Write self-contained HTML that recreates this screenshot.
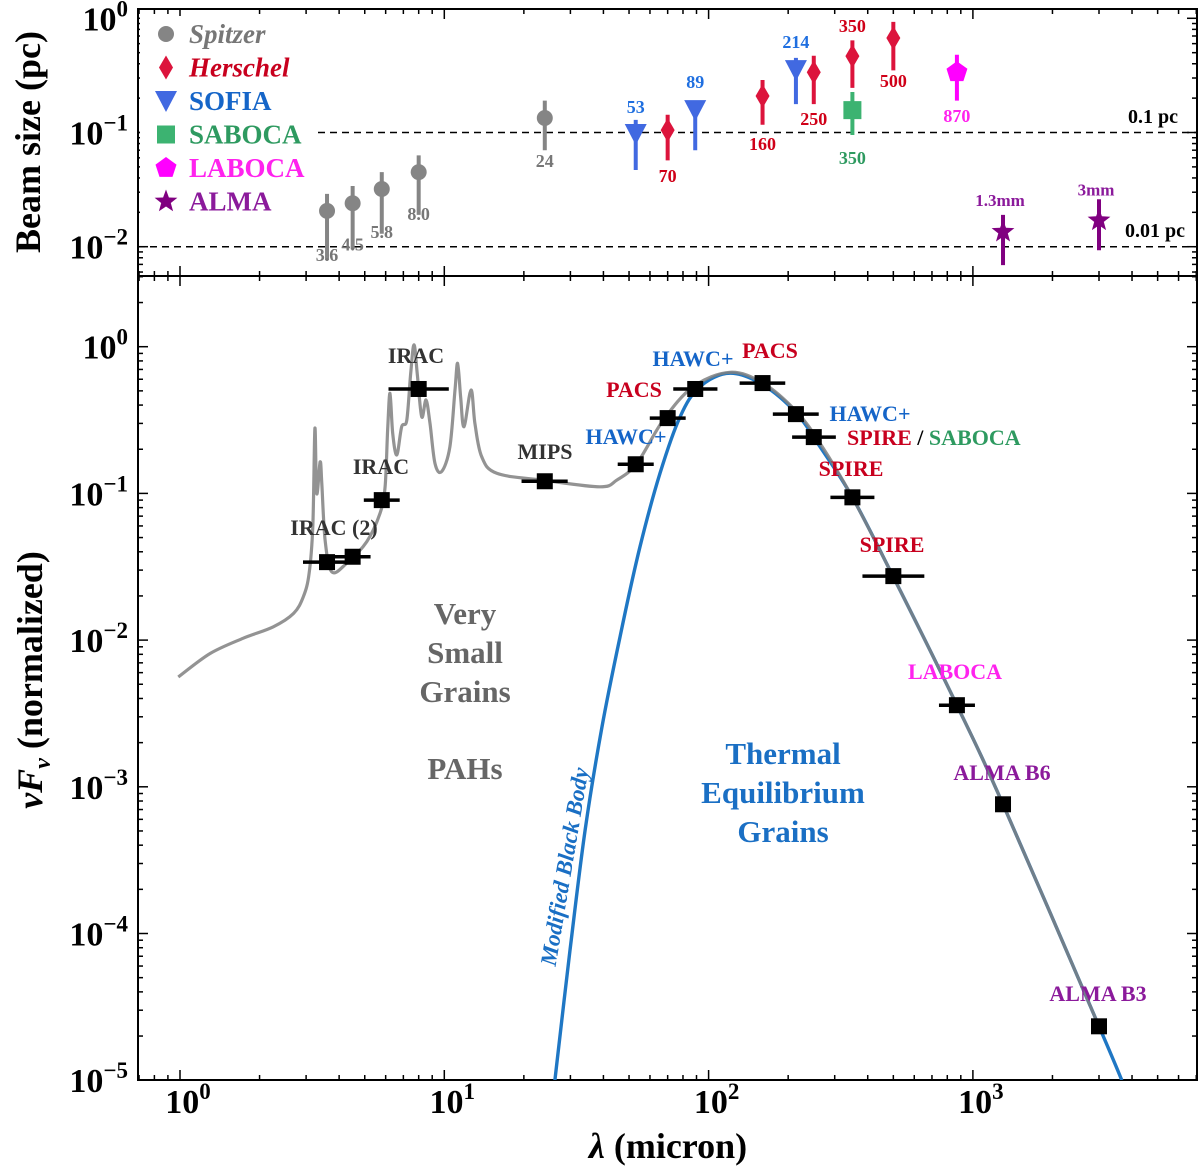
<!DOCTYPE html>
<html><head><meta charset="utf-8">
<style>
html,body{margin:0;padding:0;background:#fff;}
svg{display:block;}
text{font-family:"Liberation Serif","DejaVu Serif",serif;}
</style></head>
<body>
<svg id="chart" width="1200" height="1170" viewBox="0 0 1200 1170" xmlns="http://www.w3.org/2000/svg"></svg>
<script>
// ---------- top panel data (beam size, pc) ----------
const spitzerLam = [3.6, 4.5, 5.8, 8.0, 24];
const spitzerVal = [0.0206, 0.024, 0.032, 0.045, 0.134];
const spitzerHi = [0.029, 0.034, 0.045, 0.063, 0.19];
const spitzerLo = [0.0076, 0.0095, 0.013, 0.019, 0.070];
const spitzerLbl = ["3.6", "4.5", "5.8", "8.0", "24"];
const sofiaLam = [53, 89, 214];
const sofiaVal = [0.097, 0.157, 0.352];
const sofiaHi = [0.129, 0.19, 0.45];
const sofiaLo = [0.047, 0.07, 0.177];
const sofiaLbl = ["53", "89", "214"];
const herschelLam = [70, 160, 250, 350, 500];
const herschelVal = [0.105, 0.209, 0.337, 0.466, 0.672];
const herschelHi = [0.143, 0.288, 0.47, 0.64, 0.93];
const herschelLo = [0.057, 0.117, 0.177, 0.246, 0.35];
const herschelLbl = ["70", "160", "250", "350", "500"];
const sabocaLam = [350];
const sabocaVal = [0.157];
const sabocaHi = [0.226];
const sabocaLo = [0.095];
const labocaLam = [870];
const labocaVal = [0.337];
const labocaHi = [0.48];
const labocaLo = [0.19];
const almaLam = [1300, 3000];
const almaVal = [0.0135, 0.017];
const almaHi = [0.019, 0.026];
const almaLo = [0.0069, 0.0093];
const almaLbl = ["1.3mm", "3mm"];

// ---------- bottom panel data (nuFnu normalized) ----------
const photLam = [3.6, 4.5, 5.8, 8.0, 24, 53, 70, 89, 160, 214, 250, 350, 500, 870, 1300, 3000];
const photVal = [0.034, 0.037, 0.090, 0.515, 0.121, 0.158, 0.326, 0.515, 0.565, 0.347, 0.242, 0.094, 0.0273, 0.0036, 0.00076, 0.0000233];
const photLamLo = [2.92, 3.85, 4.96, 6.15, 19.6, 45.3, 59.9, 73.5, 131, 175, 207, 289, 382, 744, 1300, 3000];
const photLamHi = [4.44, 5.26, 6.78, 10.4, 29.3, 62, 81.9, 108, 195, 261, 303, 424, 655, 1018, 1300, 3000];

const dustLam = [0.985, 1.30, 1.736, 2.25, 2.69, 2.93, 3.08, 3.18, 3.24, 3.29, 3.39, 3.44, 3.54, 3.75, 4.27, 5.09, 5.71, 5.97, 6.11, 6.23, 6.38, 6.61, 6.90, 7.21, 7.46, 7.68, 7.90, 8.21, 8.53, 8.83, 9.22, 9.78, 10.5, 10.98, 11.23, 11.53, 11.87, 12.62, 13.06, 13.85, 15.8, 23.7, 38.8, 44.9, 53.5, 67.4, 87.5, 120.5, 161, 215, 264, 350, 500, 870, 1300, 3000];
const dustVal = [0.0056, 0.0081, 0.0103, 0.0123, 0.0152, 0.0198, 0.0285, 0.0593, 0.278, 0.1, 0.164, 0.117, 0.048, 0.0292, 0.0334, 0.0469, 0.0731, 0.111, 0.285, 0.481, 0.257, 0.183, 0.285, 0.316, 0.659, 1.03, 0.659, 0.333, 0.433, 0.30, 0.160, 0.141, 0.208, 0.507, 0.771, 0.456, 0.285, 0.507, 0.30, 0.178, 0.137, 0.123, 0.111, 0.123, 0.160, 0.316, 0.534, 0.669, 0.563, 0.361, 0.22, 0.094, 0.027, 0.0036, 0.00076, 0.0000233];

const mbbLam = [26.2, 29.9, 34.1, 39.4, 46.2, 55.0, 65.5, 78, 92.7, 120.5, 161, 215, 264, 350, 500, 870, 1300, 3000, 3660];
const mbbVal = [0.00001, 0.000077, 0.000506, 0.0025, 0.0105, 0.0433, 0.137, 0.333, 0.534, 0.66, 0.548, 0.352, 0.208, 0.094, 0.027, 0.0036, 0.00076, 0.0000233, 0.00001];

const xTickPow = [0, 1, 2, 3];
const topYTickPow = [0, -1, -2];
const botYTickPow = [0, -1, -2, -3, -4, -5];

// ---------- geometry ----------
const L = 138, R = 1197;
const TT = 9, TB = 276, BT = 276, BB = 1080;
const xs = v => 180 + 264.3 * Math.log10(v);
const yTop = v => 18.3 - 114.2 * Math.log10(v);
const yBot = v => 346.7 - 146.7 * Math.log10(v);

const svg = document.getElementById('chart');
const NS = 'http://www.w3.org/2000/svg';
function mk(tag, attrs, parent) {
  const e = document.createElementNS(NS, tag);
  for (const k in attrs) e.setAttribute(k, attrs[k]);
  (parent || svg).appendChild(e);
  return e;
}
function txt(s, x, y, size, fill, opts) {
  opts = opts || {};
  const t = mk('text', {x: x, y: y, 'font-size': size, fill: fill, 'text-anchor': opts.anchor || 'middle', 'font-weight': opts.weight || 'bold', 'font-style': opts.style || 'normal'});
  if (opts.rot !== undefined) t.setAttribute('transform', 'rotate(' + opts.rot + ' ' + x + ' ' + y + ')');
  t.textContent = s;
  return t;
}

// ---------- frames ----------
const fr1 = mk('rect', {x: L, y: TT, width: R - L, height: TB - TT, fill: 'none', stroke: '#000', 'stroke-width': 2});


const fr2 = mk('rect', {x: L, y: BT, width: R - L, height: BB - BT, fill: 'none', stroke: '#000', 'stroke-width': 2});



// ---------- ticks ----------
function xTicks(yt, yb) {
  for (let p = -1; p <= 3; p++) {
    for (let m = 1; m <= 9; m++) {
      const v = m * Math.pow(10, p);
      const x = xs(v);
      if (x < L || x > R) continue;
      const len = m === 1 ? 10 : 5;
      const a = mk('line', {x1: x, x2: x, y1: yb, y2: yb - len, stroke: '#000', 'stroke-width': 1.5});
      
      
      const b = mk('line', {x1: x, x2: x, y1: yt, y2: yt + len, stroke: '#000', 'stroke-width': 1.5});
      
      
    }
  }
}
function yTicks(yf, yt, yb, pmin, pmax) {
  for (let p = pmin; p <= pmax; p++) {
    for (let m = 1; m <= 9; m++) {
      const y = yf(m * Math.pow(10, p));
      if (y < yt || y > yb) continue;
      const len = m === 1 ? 10 : 5;
      const a = mk('line', {x1: L, x2: L + len, y1: y, y2: y, stroke: '#000', 'stroke-width': 1.5});
      
      
      const b = mk('line', {x1: R, x2: R - len, y1: y, y2: y, stroke: '#000', 'stroke-width': 1.5});
      
      
    }
  }
}
xTicks(TT, TB); xTicks(BT, BB);
yTicks(yTop, TT, TB, -3, 0);
yTicks(yBot, BT, BB, -6, 0);

function powLabel(x, y, p, anchor, name) {
  const t = mk('text', {x: x, y: y, 'font-size': 34, fill: '#000', 'text-anchor': anchor, 'font-weight': 'bold'});
  
  
  const a = mk('tspan', {}, t); a.textContent = '10';
  const b = mk('tspan', {dy: -14, 'font-size': 23}, t);
  b.textContent = p < 0 ? '\u2212' + (-p) : String(p);
}
xTickPow.forEach(p => powLabel(xs(Math.pow(10, p)) + 8, 1113, p, 'middle', 'x-tick-label'));
topYTickPow.forEach(p => powLabel(128, yTop(Math.pow(10, p)) + 12, p, 'end', 'top-y-tick-label'));
botYTickPow.forEach(p => powLabel(128, yBot(Math.pow(10, p)) + 12, p, 'end', 'bottom-y-tick-label'));

// axis titles
const yt1 = txt('Beam size (pc)', 40, 142, 36, '#000', {weight: 'bold', rot: -90});


const yt2 = mk('text', {x: 42, y: 680, 'font-size': 36, 'font-weight': 'bold', fill: '#000', 'text-anchor': 'middle', transform: 'rotate(-90 42 680)'});


yt2.innerHTML = '<tspan font-style="italic">\u03BDF</tspan><tspan font-style="italic" font-size="24" dy="8">\u03BD</tspan><tspan dy="-8"> (normalized)</tspan>';
const xt = mk('text', {x: 668, y: 1158, 'font-size': 36, 'font-weight': 'bold', fill: '#000', 'text-anchor': 'middle'});


xt.innerHTML = '<tspan font-style="italic">\u03BB</tspan> (micron)';

// ---------- top panel ----------
[0.1, 0.01].forEach((v, i) => {
  const l = mk('line', {x1: L, x2: R, y1: yTop(v), y2: yTop(v), stroke: '#000', 'stroke-width': 1.5, 'stroke-dasharray': '7,5'});
  
  
});
const rl1 = txt('0.1 pc', 1153, 123, 20, '#000');


const rl2 = txt('0.01 pc', 1155, 237, 20, '#000');



function marker(shape, cx, cy, color) {
  let e;
  if (shape === 'circle') e = mk('circle', {cx: cx, cy: cy, r: 8, fill: color});
  else if (shape === 'diamond') e = mk('polygon', {points: `${cx},${cy-12} ${cx+7},${cy} ${cx},${cy+12} ${cx-7},${cy}`, fill: color});
  else if (shape === 'tri') e = mk('polygon', {points: `${cx-11},${cy-10} ${cx+11},${cy-10} ${cx},${cy+11}`, fill: color});
  else if (shape === 'square') e = mk('rect', {x: cx - 9, y: cy - 9, width: 18, height: 18, fill: color});
  else if (shape === 'pent') {
    let pts = [];
    for (let k = 0; k < 5; k++) { const a = -Math.PI / 2 + k * 2 * Math.PI / 5; pts.push((cx + 11 * Math.cos(a)).toFixed(1) + ',' + (cy + 11 * Math.sin(a)).toFixed(1)); }
    e = mk('polygon', {points: pts.join(' '), fill: color});
  } else {
    let pts = [];
    for (let k = 0; k < 10; k++) { const a = -Math.PI / 2 + k * Math.PI / 5; const r = k % 2 ? 5 : 12; pts.push((cx + r * Math.cos(a)).toFixed(1) + ',' + (cy + r * Math.sin(a)).toFixed(1)); }
    e = mk('polygon', {points: pts.join(' '), fill: color});
  }
  return e;
}
function topSeries(name, lam, val, lo, hi, shape, color) {
  lam.forEach((l, i) => {
    const x = xs(l);
    const eb = mk('line', {x1: x, x2: x, y1: yTop(hi[i]), y2: yTop(lo[i]), stroke: color, 'stroke-width': 4});
    
    
    const m = marker(shape, x, yTop(val[i]), color);
    
    
  });
}
topSeries('spitzer', spitzerLam, spitzerVal, spitzerLo, spitzerHi, 'circle', '#858585');
topSeries('sofia', sofiaLam, sofiaVal, sofiaLo, sofiaHi, 'tri', '#4169e1');
topSeries('herschel', herschelLam, herschelVal, herschelLo, herschelHi, 'diamond', '#dc143c');
topSeries('saboca', sabocaLam, sabocaVal, sabocaLo, sabocaHi, 'square', '#3cb371');
topSeries('laboca', labocaLam, labocaVal, labocaLo, labocaHi, 'pent', '#ff00ff');
topSeries('alma', almaLam, almaVal, almaLo, almaHi, 'star', '#800080');

// top point labels
const spOff = [[0, 50], [0, 47], [0, 49], [0, 48], [0, 49]];
spitzerLam.forEach((l, i) => { const t = txt(spitzerLbl[i], xs(l) + spOff[i][0], yTop(spitzerVal[i]) + spOff[i][1], 18, '#777');   });
const soOff = [-21, -22, -22];
sofiaLam.forEach((l, i) => { const t = txt(sofiaLbl[i], xs(l), yTop(sofiaVal[i]) + soOff[i], 18, '#1f6fe0');   });
const heOff = [52, 54, 53, -24, 49];
herschelLam.forEach((l, i) => { const t = txt(herschelLbl[i], xs(l), yTop(herschelVal[i]) + heOff[i], 18, '#d00018');   });
const sbl = txt('350', xs(350), yTop(0.157) + 54, 18, '#2e9a60');  
const lbl = txt('870', xs(870), yTop(0.337) + 50, 18, '#ff22ee');  
const alOff = [-26, -25];
almaLam.forEach((l, i) => { const t = txt(almaLbl[i], xs(l) - 3, yTop(almaVal[i]) + alOff[i], 17, '#8b1a9b');   });

// legend
const legBg = mk('rect', {x: 140, y: 16, width: 176, height: 204, fill: '#fff'});


const legNames = ['Spitzer', 'Herschel', 'SOFIA', 'SABOCA', 'LABOCA', 'ALMA'];
const legShapes = ['circle', 'diamond', 'tri', 'square', 'pent', 'star'];
const legMk = ['#858585', '#dc143c', '#4169e1', '#3cb371', '#ff00ff', '#800080'];
const legTx = ['#777', '#c8001e', '#1565c8', '#2e9a60', '#ff22ee', '#8b1a9b'];
legNames.forEach((n, i) => {
  const cy = 34 + i * 33.5;
  const m = marker(legShapes[i], 166, cy, legMk[i]);
  
  
  const t = txt(n, 189, cy + 9, 27, legTx[i], {anchor: 'start', style: i < 2 ? 'italic' : 'normal'});
  
  
});

// ---------- bottom panel ----------
const clip = mk('clipPath', {id: 'botclip'});
mk('rect', {x: L, y: BT, width: R - L, height: BB - BT}, clip);
function smoothPath(lam, val) {
  const P = lam.map((l, i) => [xs(l), yBot(val[i])]);
  let d = 'M' + P[0][0].toFixed(1) + ',' + P[0][1].toFixed(1);
  for (let i = 0; i < P.length - 1; i++) {
    const p0 = P[Math.max(0, i - 1)], p1 = P[i], p2 = P[i + 1], p3 = P[Math.min(P.length - 1, i + 2)];
    const c1 = [p1[0] + (p2[0] - p0[0]) / 6, p1[1] + (p2[1] - p0[1]) / 6];
    const c2 = [p2[0] - (p3[0] - p1[0]) / 6, p2[1] - (p3[1] - p1[1]) / 6];
    d += ' C' + c1[0].toFixed(1) + ',' + c1[1].toFixed(1) + ' ' + c2[0].toFixed(1) + ',' + c2[1].toFixed(1) + ' ' + p2[0].toFixed(1) + ',' + p2[1].toFixed(1);
  }
  return d;
}
const mbb = mk('path', {d: smoothPath(mbbLam, mbbVal), fill: 'none', stroke: '#1f77c4', 'stroke-width': 3.4, 'clip-path': 'url(#botclip)', 'stroke-linejoin': 'round'});


const dust = mk('path', {d: smoothPath(dustLam, dustVal), fill: 'none', stroke: '#808080', 'stroke-opacity': 0.85, 'stroke-width': 3.2, 'clip-path': 'url(#botclip)', 'stroke-linejoin': 'round'});



photLam.forEach((l, i) => {
  const y = yBot(photVal[i]);
  if (photLamHi[i] > photLamLo[i]) {
    const eb = mk('line', {x1: xs(photLamLo[i]), x2: xs(photLamHi[i]), y1: y, y2: y, stroke: '#000', 'stroke-width': 3.5});
    
    
  }
  const s = mk('rect', {x: xs(l) - 8, y: y - 8, width: 16, height: 16, fill: '#000'});
  
  
});

const annots = [
  ['IRAC (2)', 334, 535, '#333'], ['IRAC', 381, 474, '#333'], ['IRAC', 416, 363, '#333'],
  ['MIPS', 545, 459, '#333'], ['HAWC+', 626, 444, '#1565c8'], ['PACS', 634, 397, '#c8001e'],
  ['HAWC+', 693, 366, '#1565c8'], ['PACS', 770, 358, '#c8001e'], ['HAWC+', 870, 421, '#1565c8'],
  ['SPIRE', 851, 476, '#c8001e'], ['SPIRE', 892, 552, '#c8001e'], ['LABOCA', 955, 679, '#ff22ee'],
  ['ALMA B6', 1002, 780, '#8b1a9b'], ['ALMA B3', 1098, 1001, '#8b1a9b']
];
annots.forEach(a => {
  const t = txt(a[0], a[1], a[2], 22, a[3]);
  
  
});
const ss = mk('text', {x: 847, y: 445, 'font-size': 22, 'font-weight': 'bold', 'text-anchor': 'start'});


ss.innerHTML = '<tspan fill="#c8001e">SPIRE</tspan><tspan fill="#000"> / </tspan><tspan fill="#2e9a60">SABOCA</tspan>';

[['Very', 624], ['Small', 663], ['Grains', 702], ['PAHs', 779]].forEach(a => {
  const t = txt(a[0], 465, a[1], 31, '#666');
  
  
});
[['Thermal', 764], ['Equilibrium', 803], ['Grains', 842]].forEach(a => {
  const t = txt(a[0], 783, a[1], 31, '#1a6fc4');
  
  
});
const mbl = txt('Modified Black Body', 572, 868, 23, '#1a6fc4', {style: 'italic', rot: -80.5});


</script>
</body></html>
